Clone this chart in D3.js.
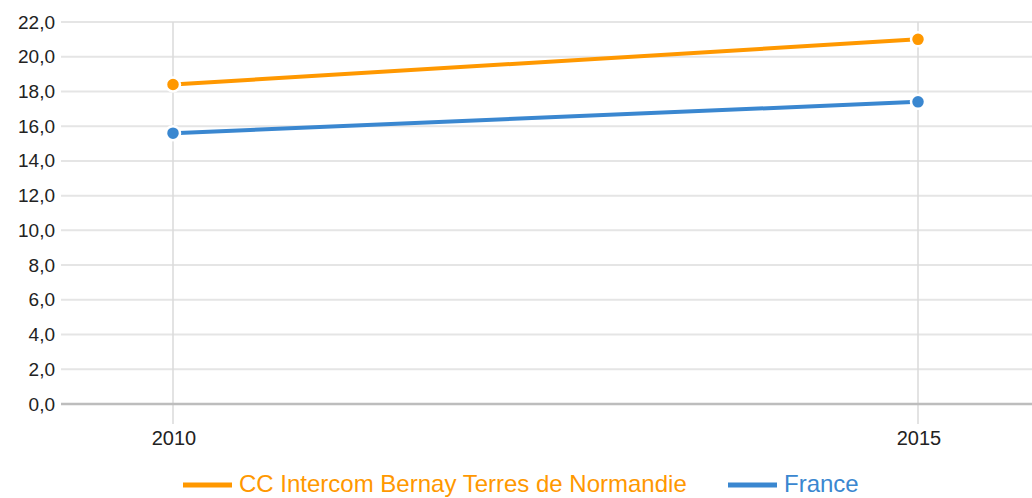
<!DOCTYPE html>
<html lang="fr">
<head>
  <meta charset="UTF-8">
  <title>Evolution 2010-2015</title>
  <script src="https://d3js.org/d3.v7.min.js"></script>
  <style>
    body { margin: 0; background: #fff; }
    text { font-family: "Liberation Sans", Arial, sans-serif; }
    .grid line { stroke: #e5e5e5; stroke-width: 2px; }
    .vgrid line { stroke: #dadada; stroke-width: 1.5px; }
  </style>
</head>
<body>
  <svg width="1032" height="498"></svg>

  <script>
    // chart data
    const years = [2010, 2015];
    const seriesNames = ["CC Intercom Bernay Terres de Normandie", "France"];
    const territoryValues = [18.4, 21.0];
    const franceValues = [15.6, 17.4];
    const yTicks = [0, 2, 4, 6, 8, 10, 12, 14, 16, 18, 20, 22];
    const colors = ["#ff9800", "#3a87d0"];

    const series = [
      { name: seriesNames[0], values: territoryValues, color: colors[0] },
      { name: seriesNames[1], values: franceValues, color: colors[1] }
    ];

    const svg = d3.select("svg");

    const plot = { left: 61, right: 1032, top: 22, bottom: 404 };

    // the two years sit at 173 and 918 in the original
    const x = d3.scaleLinear().domain([2010, 2015]).range([173, 918]);
    const y = d3.scaleLinear().domain([0, 22]).range([plot.bottom, plot.top]);

    const fmt = v => d3.format(".1f")(v).replace(".", ",");

    // horizontal gridlines
    svg.append("g").attr("class", "grid")
      .selectAll("line")
      .data(yTicks.filter(d => d !== 0))
      .enter().append("line")
      .attr("x1", plot.left).attr("x2", plot.right)
      .attr("y1", d => y(d)).attr("y2", d => y(d));

    // vertical lines at each year
    svg.append("g").attr("class", "vgrid")
      .selectAll("line")
      .data(years)
      .enter().append("line")
      .attr("x1", d => x(d)).attr("x2", d => x(d))
      .attr("y1", plot.top).attr("y2", plot.bottom + 20);

    // baseline
    svg.append("line")
      .attr("x1", plot.left).attr("x2", plot.right)
      .attr("y1", y(0)).attr("y2", y(0))
      .attr("stroke", "#bdbdbd").attr("stroke-width", 2.5);

    // y labels
    svg.append("g")
      .selectAll("text")
      .data(yTicks)
      .enter().append("text")
      .attr("x", 55)
      .attr("y", d => y(d) + 6.5)
      .attr("text-anchor", "end")
      .attr("font-size", 19)
      .attr("fill", "#222")
      .text(fmt);

    // x labels
    svg.append("g")
      .selectAll("text")
      .data(years)
      .enter().append("text")
      .attr("x", d => x(d) + 1)
      .attr("y", 445)
      .attr("text-anchor", "middle")
      .attr("font-size", 20)
      .attr("fill", "#222")
      .text(d => d);

    const line = d3.line()
      .x((d, i) => x(years[i]))
      .y(d => y(d));

    const g = svg.append("g")
      .selectAll("g")
      .data(series)
      .enter().append("g");

    g.append("path")
      .attr("d", d => line(d.values))
      .attr("fill", "none")
      .attr("stroke", d => d.color)
      .attr("stroke-width", 4);

    g.selectAll("circle")
      .data(d => d.values.map((v, i) => ({ v, i, color: d.color })))
      .enter().append("circle")
      .attr("cx", d => x(years[d.i]))
      .attr("cy", d => y(d.v))
      .attr("r", 7)
      .attr("fill", d => d.color)
      .attr("stroke", "#fff")
      .attr("stroke-width", 2.5);

    // legend
    const legendX = [183, 728];
    const legend = svg.append("g")
      .selectAll("g")
      .data(series)
      .enter().append("g")
      .attr("transform", (d, i) => `translate(${legendX[i]},485)`);

    legend.append("line")
      .attr("x1", 0).attr("x2", 49)
      .attr("stroke", d => d.color)
      .attr("stroke-width", 5);

    legend.append("text")
      .attr("x", 56)
      .attr("y", 7)
      .attr("font-size", 24)
      .attr("fill", d => d.color)
      .text(d => d.name);
  </script>
</body>
</html>
